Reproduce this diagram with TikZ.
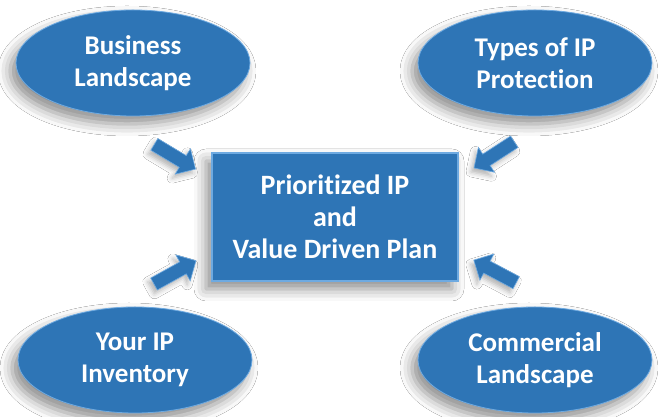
\documentclass[tikz,border=0pt]{standalone}
\usepackage{fontspec}
\setmainfont{Carlito}[Ligatures=NoCommon]
\usetikzlibrary{shapes.geometric,shapes.arrows,shadows.blur}
\definecolor{ipblue}{RGB}{46,117,182}
\definecolor{ipedge}{RGB}{110,170,225}
\tikzset{
  softshadow/.style={blur shadow={shadow xshift=-6pt,shadow yshift=-8pt,shadow blur radius=12pt,shadow opacity=45}},
  topic/.style={ellipse,fill=ipblue,draw=ipedge,line width=0.8pt,minimum width=234pt,minimum height=106pt,
    text=white,align=center,font=\bfseries\fontsize{27}{32}\selectfont,softshadow},
  planbox/.style={rectangle,fill=ipblue,draw=ipedge,line width=1.2pt,minimum width=246pt,minimum height=128pt,
    text=white,align=center,font=\bfseries\fontsize{28}{32}\selectfont,softshadow},
  inarrow/.style={single arrow,fill=ipblue,draw=ipedge,line width=0.6pt,inner sep=6.5pt,
    minimum height=48pt,single arrow head extend=8pt,
    blur shadow={shadow xshift=-3pt,shadow yshift=-4pt,shadow blur radius=5pt,shadow opacity=30}}
}
\begin{document}
\begin{tikzpicture}[x=1pt,y=1pt]
  \useasboundingbox[fill=white] (0,0) rectangle (659,417);

  \node[planbox] (plan) at (335,200) {Prioritized IP\\and\\Value Driven Plan};

  \node[topic] (business)   at (133,354) {Business\\Landscape};
  \node[topic] (types)      at (535,354) {Types of IP\\Protection};
  \node[topic] (inventory)  at (135,57)  {Your IP\\Inventory};
  \node[topic] (commercial) at (535,57)  {Commercial\\Landscape};

  % block arrows pointing at the plan
  \node[inarrow,rotate=-31] (arrbusiness)   at (172,262) {};
  \node[inarrow,rotate=213] (arrtypes)      at (497,264) {};
  \node[inarrow,rotate=29]  (arrinventory)  at (172,143) {};
  \node[inarrow,rotate=152] (arrcommercial) at (498,144) {};
\end{tikzpicture}
\end{document}
